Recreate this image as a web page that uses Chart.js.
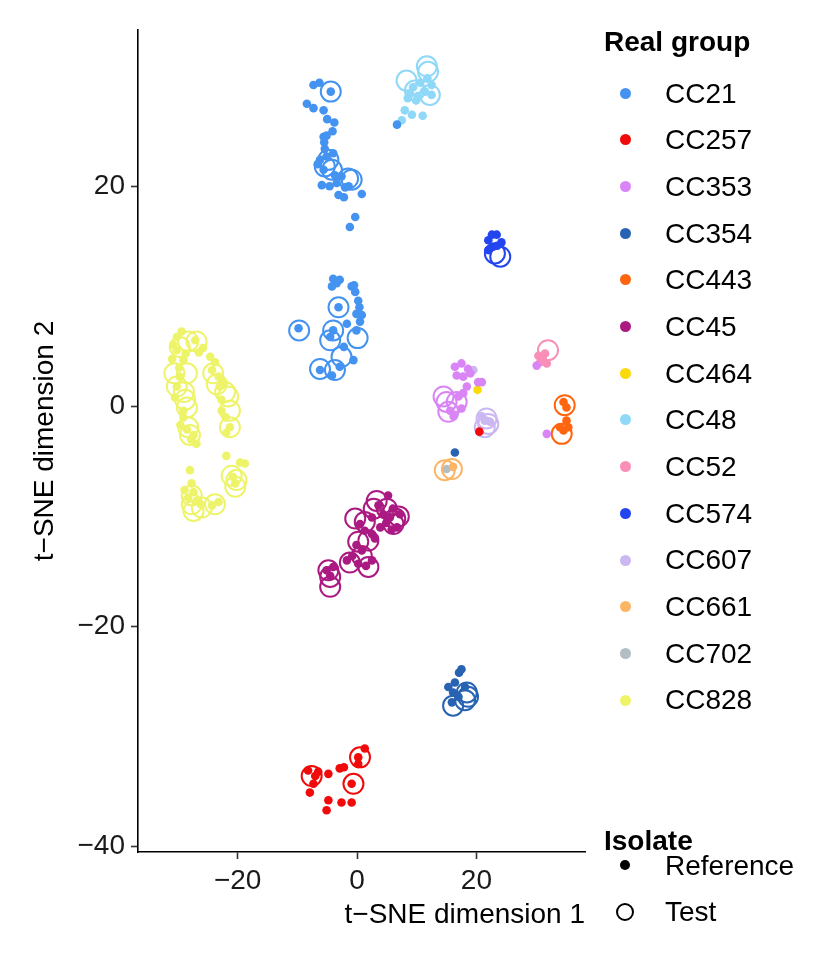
<!DOCTYPE html>
<html>
<head>
<meta charset="utf-8">
<script src="https://cdn.jsdelivr.net/npm/chart.js@4.4.1/dist/chart.umd.min.js"></script>
<style>
  body { margin: 0; background: #fff; }
  #wrap { position: relative; width: 832px; height: 962px; font-family: 'Liberation Sans', Arial, sans-serif; }
  canvas { position: absolute; left: 0; top: 0; }
  .lg { position: absolute; font-size: 28px; line-height: 28px; color: #000; white-space: nowrap; }
  .lg.b { font-weight: bold; }
  .dot { position: absolute; border-radius: 50%; box-sizing: border-box; }
</style>
</head>
<body>
<div id="wrap">
  <canvas id="myChart" width="832" height="962"></canvas>
  <div id="legend"></div>
</div>
<script>
// groups and colours
const groups = ['CC21', 'CC257', 'CC353', 'CC354', 'CC443', 'CC45', 'CC464', 'CC48', 'CC52', 'CC574', 'CC607', 'CC661', 'CC702', 'CC828']
const groupColors = ['#4593F0', '#F00A0A', '#DA85F5', '#2763B2', '#FF650F', '#AA1A82', '#FADA0A', '#8FD8F8', '#F98EB8', '#2345F0', '#CBB8F2', '#FCB565', '#B2BEC2', '#EEF46A']
const xTickValues = [-20, 0, 20]
const yTickValues = [-40, -20, 0, 20]

// [t-SNE 1, t-SNE 2] per isolate
const cc21Ref = [[-7.3,29.2],[-6.3,29.4],[-8.4,27.5],[-7.3,27.1],[-5.6,26.9],[-5.0,26.1],[-3.8,25.8],[-4.1,25.0],[-5.6,24.5],[-5.5,24.0],[-5.4,23.4],
  [-6.2,22.4],[-5.6,21.5],[-5.9,20.1],[-3.7,21.0],[-2.6,20.9],[-3.4,20.3],[-3.1,19.2],[-2.0,19.9],[0.8,19.3],[-5.1,22.7],[-4.0,23.0],
  [-6.6,22.0],[-4.6,20.0],[-2.2,19.0],[-1.4,20.0],[-5.1,24.6],
  [-0.3,17.2],[-1.2,16.3],[6.7,25.6],[-4.4,28.6],
  [-4.0,11.6],[-2.9,11.5],[-4.2,10.9],[-0.9,10.9],[-0.3,10.4],[0.2,9.6],[-0.1,8.4],[0.8,8.3],[0.5,7.7],[-1.7,7.5],[-0.1,6.9],[-9.8,7.1],
  [-4.0,6.9],[-4.5,6.3],[-0.6,4.2],[-2.9,3.6],[-4.2,2.8],[-6.2,3.3],[-3.1,9.0],[-3.4,11.2],[-0.5,11.0],[0.4,9.0],[-2.2,5.4]]
const cc21Test = [[-4.4,28.6],[-4.8,22.4],[-5.4,21.8],[-4.2,21.5],[-1.5,20.7],[-0.9,20.6],[-3.1,9.0],[-9.7,6.9],[-4.0,6.9],[-4.5,6.0],[0.1,6.2],[-2.6,4.5],[-6.2,3.4],[-3.7,3.3]]
const cc257Ref = [[1.3,-31.1],[0.2,-31.9],[0.2,-32.5],[-2.9,-32.9],[-4.8,-33.4],[-8.2,-33.1],[-7.3,-34.3],[-7.9,-35.1],[-0.9,-34.3],[-4.8,-35.8],[-5.1,-36.7],[-2.6,-36.0],[-0.9,-36.0],[-6.5,-33.2],[-2.2,-32.8],[-7.0,-33.6],[20.5,-2.3]]
const cc257Test = [[0.5,-31.9],[-7.6,-33.6],[-0.6,-34.3]]
const cc353Ref = [[16.4,3.6],[17.5,3.9],[18.6,3.4],[16.7,2.8],[17.8,2.7],[20.3,2.2],[20.9,2.2],[18.4,1.8],[17.8,1.2],[17.0,0.9],[15.6,-0.4],[17.5,-0.2],[16.2,-0.9],[19.0,3.0],[30.1,3.7],[31.8,-2.5]]
const cc353Test = [[14.5,0.9],[15.0,0.4],[16.7,0.4],[15.3,-0.5]]
const cc354Ref = [[17.5,-23.9],[16.4,-25.1],[15.3,-25.5],[16.1,-26.0],[17.0,-26.4],[18.1,-25.5],[17.1,-24.2],[15.9,-26.9],[16.4,-4.2]]
const cc354Test = [[18.4,-26.0],[18.6,-26.4],[16.1,-27.2],[18.1,-26.7]]
const cc443Ref = [[34.6,0.4],[35.1,-0.1],[35.1,-1.3],[34.0,-1.9],[35.4,-1.9],[34.6,-2.2]]
const cc443Test = [[34.8,0.1],[34.3,-2.5]]
const cc45Ref = [[5.2,-8.1],[3.6,-9.0],[4.4,-9.8],[2.5,-10.1],[5.5,-10.1],[7.2,-9.8],[6.7,-11.0],[0.5,-10.7],[3.9,-11.0],[2.5,-11.6],[-0.1,-12.6],[0.8,-13.1],[-1.7,-14.0],[0.2,-14.3],[2.5,-14.0],[-5.1,-14.9],[-4.5,-15.4],
  [4.9,-10.6],[6.0,-9.3],[3.0,-12.0],[1.3,-11.3],[-0.8,-13.6],[1.5,-14.5],[-4.0,-14.6],[5.8,-11.2]]
const cc45Test = [[3.3,-8.6],[5.0,-9.3],[-0.3,-10.2],[1.3,-10.5],[6.4,-10.2],[6.1,-10.7],[0.2,-12.3],[1.9,-12.2],[-1.2,-14.2],[1.9,-14.6],[-4.8,-14.9],[-4.5,-15.5],[-4.5,-16.4],[7.0,-10.0],[0.8,-13.6],[2.8,-9.3]]
const cc464Ref = [[20.2,1.5]]
const cc464Test = []
const cc48Ref = [[8.9,28.4],[9.4,29.0],[10.6,29.4],[12.5,29.2],[12.5,28.3],[8.0,26.9],[9.2,26.5],[11.0,26.4],[7.5,26.0],[9.9,27.8],[11.4,28.6],[8.5,28.0],[10.2,28.2],[11.8,29.8]]
const cc48Test = [[8.3,29.6],[11.7,30.9],[11.9,30.4],[9.7,28.7],[12.2,28.3]]
const cc52Ref = [[30.4,4.6],[31.5,4.8],[30.7,4.0],[31.8,3.9],[31.1,4.4]]
const cc52Test = [[32.0,5.1]]
const cc574Ref = [[22.6,15.6],[23.4,15.6],[22.0,15.1],[24.2,14.9],[22.8,14.5],[22.0,14.2],[23.5,14.6]]
const cc574Test = [[23.1,13.9],[24.0,13.6]]
const cc607Ref = [[19.5,3.3],[21.4,-1.3],[22.3,-1.4],[20.9,-0.9]]
const cc607Test = [[21.7,-1.1],[22.0,-1.6],[21.4,-1.9]]
const cc661Ref = [[16.1,-5.5]]
const cc661Test = [[14.7,-5.8],[15.9,-5.7]]
const cc702Ref = [[15.0,-5.7]]
const cc702Test = []
const cc828Ref = [[-29.4,6.8],[-30.2,6.3],[-30.2,5.1],[-31.0,4.3],[-29.1,4.2],[-29.7,2.7],[-30.2,1.8],[-29.1,-0.4],[-29.1,-1.0],[-27.4,-2.6],[-26.9,-3.4],[-27.1,6.0],
  [-25.8,5.3],[-24.6,4.5],[-23.8,4.0],[-23.2,2.7],[-23.0,1.8],[-22.7,0.6],[-22.7,-0.4],[-21.3,-1.9],[-21.9,-4.5],[-28.0,-5.8],[-19.6,-5.1],[-18.8,-5.2],
  [-20.4,-7.0],[-27.7,-7.0],[-27.4,-7.8],[-26.9,-8.6],[-23.2,-8.7],[-28.3,-8.3],
  [-30.8,5.6],[-29.8,3.5],[-28.7,4.8],[-30.5,0.8],[-29.6,-1.7],[-28.5,-2.1],[-27.8,-3.0],[-26.5,4.9],[-24.3,3.3],[-22.4,2.2],[-22.0,-1.0],[-21.9,-2.4],
  [-28.9,-7.6],[-26.2,-8.9],[-24.3,-9.0],[-20.8,-6.4]]
const cc828Test = [[-28.3,5.9],[-26.9,5.9],[-30.2,1.8],[-28.5,3.0],[-28.8,0.6],[-28.5,-0.1],[-28.3,-1.9],[-28.0,-2.6],[-24.1,3.0],[-22.1,1.3],[-21.6,0.9],[-21.3,-0.4],
  [-21.3,-1.9],[-20.2,-6.7],[-20.4,-7.3],[-27.7,-8.1],[-27.7,-8.9],[-27.4,-9.5],[-23.8,-8.9],
  [-29.7,5.4],[-30.6,3.0],[-29.0,1.3],[-23.5,2.0],[-26.0,-9.2],[-21.0,-6.3]]

const refPoints = [cc21Ref, cc257Ref, cc353Ref, cc354Ref, cc443Ref, cc45Ref, cc464Ref, cc48Ref, cc52Ref, cc574Ref, cc607Ref, cc661Ref, cc702Ref, cc828Ref]
const testPoints = [cc21Test, cc257Test, cc353Test, cc354Test, cc443Test, cc45Test, cc464Test, cc48Test, cc52Test, cc574Test, cc607Test, cc661Test, cc702Test, cc828Test]

const toXY = (arr) => arr.map(p => ({ x: p[0], y: p[1] }))
const fmt = (v) => v < 0 ? '\u2212' + (-v) : String(v)

const datasets = []
groups.forEach((g, i) => {
    datasets.push({
        label: g + ' Reference',
        data: toXY(refPoints[i]),
        pointRadius: 4.3,
        pointBorderWidth: 0,
        pointBackgroundColor: groupColors[i]
    })
    datasets.push({
        label: g + ' Test',
        data: toXY(testPoints[i]),
        pointRadius: 10,
        pointBorderWidth: 2,
        pointBorderColor: groupColors[i],
        pointBackgroundColor: 'rgba(0,0,0,0)'
    })
})

Chart.defaults.font.family = "'Liberation Sans', Arial, sans-serif"

const config = {
    type: 'scatter',
    data: { datasets: datasets },
    options: {
        responsive: false,
        animation: false,
        events: [],
        devicePixelRatio: 1,
        layout: { padding: { left: 0, right: 247, top: 30, bottom: 0 } },
        plugins: { legend: { display: false }, tooltip: { enabled: false } },
        scales: {
            x: {
                type: 'linear', min: -36.7, max: 38.2,
                afterBuildTicks: (axis) => { axis.ticks = xTickValues.map(v => ({ value: v })) },
                afterFit: (axis) => { axis.height = 110 },
                border: { display: true, color: '#000', width: 1.6 },
                grid: { drawOnChartArea: false, drawTicks: true, tickLength: 7, tickWidth: 1.6, tickColor: '#333' },
                ticks: { color: '#1a1a1a', font: { size: 28 }, padding: 5, maxRotation: 0, callback: fmt },
                title: { display: true, text: 't\u2212SNE dimension 1', align: 'end', color: '#000', font: { size: 28 }, padding: { top: 0, bottom: 30 } }
            },
            y: {
                type: 'linear', min: -40.5, max: 34.2,
                afterBuildTicks: (axis) => { axis.ticks = yTickValues.map(v => ({ value: v })) },
                afterFit: (axis) => { axis.width = 138 },
                border: { display: true, color: '#000', width: 1.6 },
                grid: { drawOnChartArea: false, drawTicks: true, tickLength: 7, tickWidth: 1.6, tickColor: '#333' },
                ticks: { color: '#1a1a1a', font: { size: 28 }, padding: 6, callback: fmt },
                title: { display: true, text: 't\u2212SNE dimension 2', color: '#000', font: { size: 28 }, padding: { top: 28, bottom: 0 } }
            }
        }
    }
}
const myChart = new Chart(document.getElementById('myChart'), config)

// legend (two sections, like ggplot)
const legend = document.getElementById('legend')
const addText = (txt, left, capCenter, bold) => {
    const d = document.createElement('div')
    d.className = 'lg' + (bold ? ' b' : '')
    d.textContent = txt
    d.style.left = left + 'px'
    d.style.top = (capCenter - 13.7) + 'px'
    legend.appendChild(d)
}
const addDot = (cx, cy, r, fill, stroke) => {
    const d = document.createElement('div')
    d.className = 'dot'
    d.style.left = (cx - r) + 'px'
    d.style.top = (cy - r) + 'px'
    d.style.width = (2 * r) + 'px'
    d.style.height = (2 * r) + 'px'
    if (fill) d.style.background = fill
    if (stroke) d.style.border = '2px solid ' + stroke
    legend.appendChild(d)
}
addText('Real group', 604, 42, true)
groups.forEach((g, i) => {
    const cy = 93.3 + 46.67 * i
    addDot(625, cy, 5.5, groupColors[i], null)
    addText(g, 665, cy, false)
})
addText('Isolate', 604, 841, true)
addDot(625, 865, 5, '#000', null)
addText('Reference', 665, 866, false)
addDot(625, 912, 9, null, '#000')
addText('Test', 665, 912, false)
</script>
</body>
</html>
